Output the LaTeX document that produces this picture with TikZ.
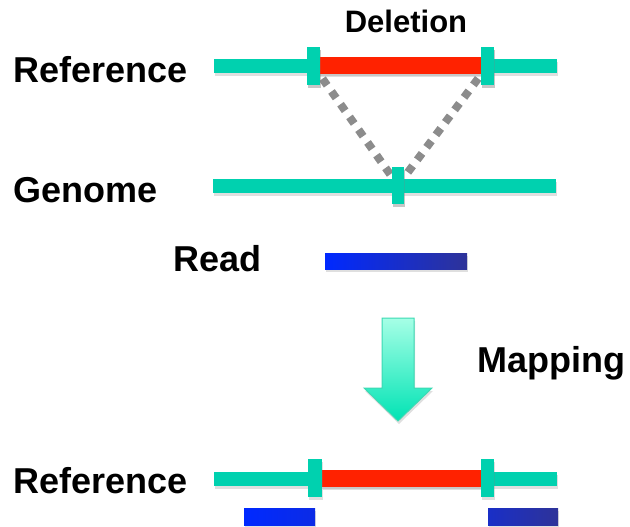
\documentclass[tikz,border=0pt]{standalone}
\usepackage{fontspec}
\setmainfont{Liberation Sans}
\usetikzlibrary{shadows}

\definecolor{seqteal}{HTML}{00D1AF}
\definecolor{delred}{HTML}{FF2200}
\definecolor{readblue}{HTML}{0029FF}
\definecolor{readnavy}{HTML}{2E3399}
\definecolor{linkgray}{HTML}{8C8C8C}
\definecolor{arrowtop}{HTML}{A6FFE6}
\definecolor{arrowbot}{HTML}{00E3B4}
\definecolor{arrowedge}{HTML}{3CD9B3}

\tikzset{
  lbl/.style={font=\fontsize{36}{40}\selectfont\bfseries, inner sep=0pt, anchor=base west},
  softshadow/.style={drop shadow={opacity=0.25, shadow xshift=1pt, shadow yshift=-3pt}},
  tickbox/.style={fill=seqteal, inner sep=0pt, minimum width=13pt, minimum height=38pt, softshadow},
  dotlink/.style={linkgray, line width=8pt, dash pattern=on 8pt off 7.6pt}
}

\begin{document}
\begin{tikzpicture}[x=1pt,y=-1pt]

    \useasboundingbox (0,0) rectangle (630,527);

    % Labels
    \node[lbl] (lref) at (13,83) {Reference};
    \node[lbl] (lgen) at (13,202) {Genome};
    \node[lbl] (lread) at (173,271) {Read};
    \node[lbl] (lmap) at (477,372) {Mapping};
    \node[lbl] (lref2) at (13,493) {Reference};
    \node[font=\fontsize{31}{34}\selectfont\bfseries, inner sep=0pt, anchor=base] (ldel) at (406,33) {Deletion};

    % Tick marks (placed first so the links can use them)
    \node[tickbox] (refA) at (313.5,66) {};
    \node[tickbox] (refB) at (487.5,66) {};
    \node[tickbox, minimum width=12pt, minimum height=37pt] (genT) at (398,185.5) {};

    % Deletion links
    \draw[dotlink] (refA.center) -- (genT.center);
    \draw[dotlink] (refB.center) -- (genT.center);

    % Reference with deletion
    \fill[seqteal, softshadow] (214,59) rectangle (557,73);
    \fill[delred, softshadow] (318,57) rectangle (482,74);
    \node[tickbox] at (refA) {};
    \node[tickbox] at (refB) {};

    % Genome
    \fill[seqteal, softshadow] (213,179) rectangle (556,193);
    \node[tickbox, minimum width=12pt, minimum height=37pt] at (genT) {};

    % Read
    \shade[left color=readblue, right color=readnavy, softshadow] (325,253) rectangle (467,269);

    % Mapping arrow
    \shade[top color=arrowtop, bottom color=arrowbot, draw=arrowedge, line width=1pt, softshadow]
        (382,318) -- (414,318) -- (414,388) -- (432,388) -- (398,421) -- (364,388) -- (382,388) -- cycle;

    % Reference after mapping
    \fill[seqteal, softshadow] (214,472) rectangle (557,486);
    \fill[delred, softshadow] (322,470) rectangle (482,487);
    \node[tickbox, minimum width=14pt] (refC) at (315,478) {};
    \node[tickbox] (refD) at (487.5,478) {};

    % Split read
    \shade[left color=readblue, right color=readblue!75!readnavy, softshadow] (244,508) rectangle (315,525);
    \shade[left color=readblue!45!readnavy, right color=readnavy, softshadow] (488,508) rectangle (558,525);

\end{tikzpicture}
\end{document}
